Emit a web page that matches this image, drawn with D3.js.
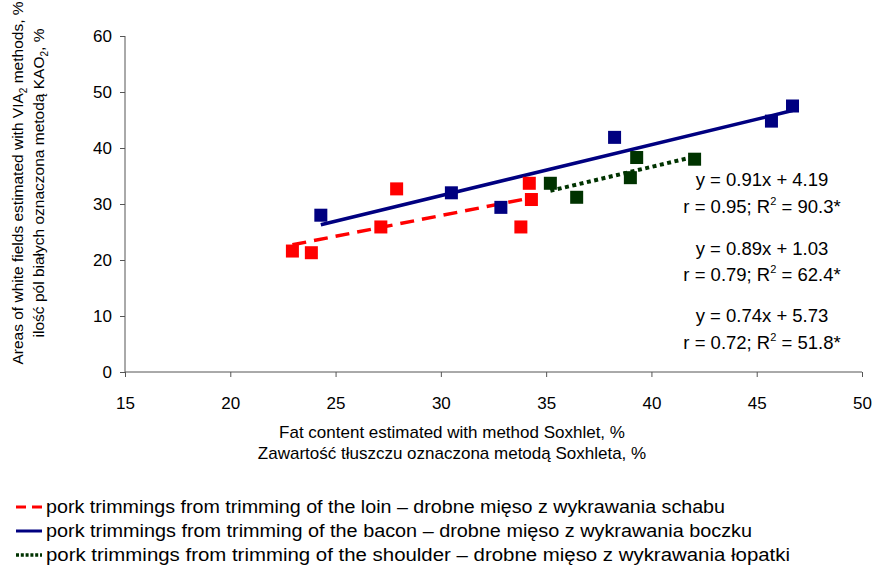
<!DOCTYPE html>
<html>
<head>
<meta charset="utf-8">
<script src="https://cdn.jsdelivr.net/npm/d3@7"></script>
<style>
  body { margin: 0; background: #fff; }
  svg { display: block; font-family: "Liberation Sans", Arial, sans-serif; }
  .axis path, .axis line { stroke: #555; }
  .axis text { font-size: 17px; fill: #000; font-family: "Liberation Sans", Arial, sans-serif; }
</style>
</head>
<body>
<div id="chart"></div>
<script>
// Series data (fat content %, white field area %)
const loinX = [22.95, 23.85, 27.15, 27.9, 33.8, 34.2, 34.3];
const loinY = [21.6, 21.3, 25.9, 32.7, 25.9, 33.7, 30.8];
const baconX = [24.3, 30.5, 32.85, 38.25, 45.7, 46.7];
const baconY = [28.0, 32.0, 29.4, 41.9, 44.8, 47.5];
const shoulderX = [35.2, 36.45, 39.0, 39.3, 42.05];
const shoulderY = [33.7, 31.2, 34.7, 38.3, 38.0];

// Regression coefficients shown on the chart
const slopes = { loin: 0.74, bacon: 0.91, shoulder: 0.89 };
const intercepts = { loin: 5.73, bacon: 4.19, shoulder: 1.03 };

const xTicks = [15, 20, 25, 30, 35, 40, 45, 50];
const yTicks = [0, 10, 20, 30, 40, 50, 60];

const eqLines = [
  ["y = 0.91x + 4.19", "r = 0.95; R", "2", " = 90.3*"],
  ["y = 0.89x + 1.03", "r = 0.79; R", "2", " = 62.4*"],
  ["y = 0.74x + 5.73", "r = 0.72; R", "2", " = 51.8*"]
];

const legendLabels = [
  "pork trimmings from trimming of the loin – drobne mięso z wykrawania schabu",
  "pork trimmings from trimming of the bacon – drobne mięso z wykrawania boczku",
  "pork trimmings from trimming of the shoulder – drobne mięso z wykrawania łopatki"
];

const series = [
  { key: "loin", xs: loinX, ys: loinY, color: "#ff0000", dash: "14,8", width: 3.5 },
  { key: "bacon", xs: baconX, ys: baconY, color: "#000080", dash: null, width: 3.5 },
  { key: "shoulder", xs: shoulderX, ys: shoulderY, color: "#003300", dash: "4,3.5", width: 4 }
];

const W = 872, H = 565;
const svg = d3.select("#chart").append("svg")
  .attr("width", W)
  .attr("height", H);

// plot area in pixels
const x = d3.scaleLinear().domain([15, 50]).range([125, 862]);
const y = d3.scaleLinear().domain([0, 60]).range([372, 36]);

// Axes
svg.append("g")
  .attr("class", "axis")
  .attr("transform", `translate(0,${y(0)})`)
  .call(d3.axisBottom(x).tickValues(xTicks).tickSize(5).tickPadding(20).tickSizeOuter(0))
  .call(g => g.select(".domain").attr("d", `M${x(15)},0H${x(50)}`));

svg.append("g")
  .attr("class", "axis")
  .attr("transform", `translate(${x(15)},0)`)
  .call(d3.axisLeft(y).tickValues(yTicks).tickSize(5).tickPadding(8).tickSizeOuter(0))
  .call(g => g.select(".domain").attr("d", `M0,${y(0)}V${y(60)}`));

// Trend lines
series.forEach(s => {
  const x0 = d3.min(s.xs), x1 = d3.max(s.xs);
  const m = slopes[s.key], b = intercepts[s.key];
  svg.append("line")
    .attr("x1", x(x0)).attr("y1", y(m * x0 + b))
    .attr("x2", x(x1)).attr("y2", y(m * x1 + b))
    .attr("stroke", s.color)
    .attr("stroke-width", s.width)
    .attr("stroke-dasharray", s.dash);
});

// Square markers
const sz = 13;
series.forEach(s => {
  svg.append("g").selectAll("rect")
    .data(s.xs.map((v, i) => [v, s.ys[i]]))
    .join("rect")
    .attr("x", d => x(d[0]) - sz / 2)
    .attr("y", d => y(d[1]) - sz / 2)
    .attr("width", sz)
    .attr("height", sz)
    .attr("fill", s.color);
});

// Equation text block
const eqY = [186, 213, 255, 281, 322, 349];
eqLines.forEach((ln, i) => {
  svg.append("text")
    .attr("x", 762).attr("y", eqY[i * 2])
    .attr("text-anchor", "middle")
    .attr("font-size", 18.5)
    .text(ln[0]);
  const t = svg.append("text")
    .attr("x", 762).attr("y", eqY[i * 2 + 1])
    .attr("text-anchor", "middle")
    .attr("font-size", 18.5);
  t.append("tspan").text(ln[1]);
  t.append("tspan").attr("dy", -8).attr("font-size", 11).text(ln[2]);
  t.append("tspan").attr("dy", 8).text(ln[3]);
});

// X axis title
svg.append("text")
  .attr("x", 452).attr("y", 438)
  .attr("text-anchor", "middle")
  .attr("font-size", 17)
  .text("Fat content estimated with method Soxhlet, %");
svg.append("text")
  .attr("x", 452).attr("y", 459)
  .attr("text-anchor", "middle")
  .attr("font-size", 17)
  .text("Zawartość tłuszczu oznaczona metodą Soxhleta, %");

// Y axis title (two rotated lines)
const yt1 = svg.append("text")
  .attr("transform", "translate(23,183) rotate(-90)")
  .attr("text-anchor", "middle")
  .attr("font-size", 15.5);
yt1.append("tspan").text("Areas of white fields estimated with VIA");
yt1.append("tspan").attr("dy", 4).attr("font-size", 10).text("2");
yt1.append("tspan").attr("dy", -4).text(" methods, %");

const yt2 = svg.append("text")
  .attr("transform", "translate(44,183) rotate(-90)")
  .attr("text-anchor", "middle")
  .attr("font-size", 15.5);
yt2.append("tspan").text("ilość pól białych oznaczona metodą KAO");
yt2.append("tspan").attr("dy", 4).attr("font-size", 10).text("2");
yt2.append("tspan").attr("dy", -4).text(", %");

// Legend (condensed text, like the original narrow font)
const legY = [507, 531, 555];
const legEnd = [725, 752, 790];
series.forEach((s, i) => {
  const g = svg.append("g").attr("transform", `translate(0,${legY[i]})`);
  g.append("line")
    .attr("x1", 16).attr("x2", 42)
    .attr("y1", 0).attr("y2", 0)
    .attr("stroke", s.color)
    .attr("stroke-width", s.width - 0.5)
    .attr("stroke-dasharray", s.key === "loin" ? "10,6" : s.key === "shoulder" ? "3,1.8" : null);
  g.append("text")
    .attr("x", 46).attr("y", 6)
    .attr("font-size", 17.5)
    .attr("textLength", legEnd[i] - 46)
    .attr("lengthAdjust", "spacingAndGlyphs")
    .text(legendLabels[i]);
});
</script>
</body>
</html>
